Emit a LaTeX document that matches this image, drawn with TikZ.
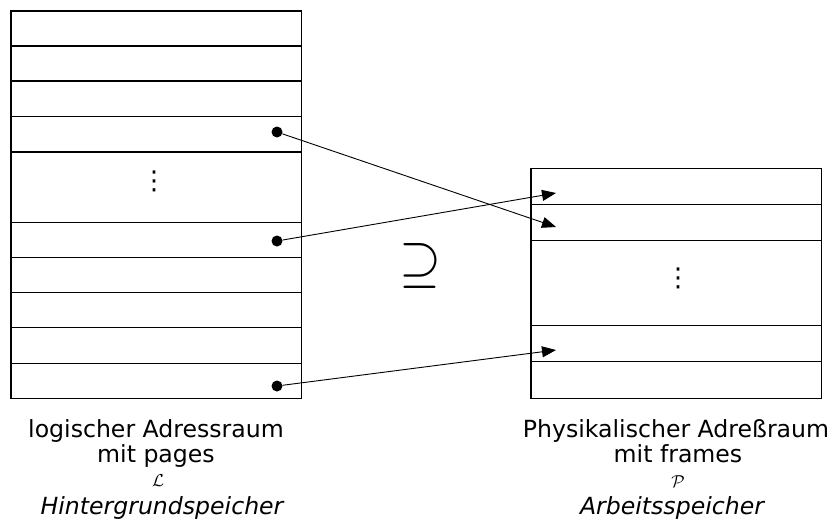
\documentclass[tikz,border=0pt]{standalone}
\usepackage{fontspec}
\setmainfont{DejaVu Sans}
\usetikzlibrary{arrows.meta}
\begin{document}
\begin{tikzpicture}[x=1pt,y=-1pt,
  row/.style={draw,line width=1.2pt,minimum width=290.5pt,inner sep=0pt,outer sep=0pt,anchor=north west},
  bullet/.style={circle,fill,inner sep=0pt,minimum size=11pt},
  link/.style={line width=0.9pt,-{Triangle[length=14pt,width=11pt]}},
  lbl/.style={font=\fontsize{23.6}{28}\selectfont,inner sep=0pt,anchor=base},
  ilbl/.style={lbl,font=\fontsize{23.6}{28}\selectfont\itshape},
  sym/.style={inner sep=0pt,anchor=base,font=\fontsize{19}{22}\selectfont},
  vdts/.style={inner sep=0pt,font=\fontsize{26}{30}\selectfont}]
\useasboundingbox (0,0) rectangle (834,527);
% left box rows
\foreach \a/\b [count=\i] in {11/46,46/81,81/116.5,116.5/152,152/222.3,222.3/257.3,257.3/292.5,292.5/327.7,327.7/363.3,363.3/398.3}
  \node[row,minimum height={(\b-\a)*1pt}] (L\i) at (11,\a) {};
% right box rows
\foreach \a/\b [count=\i] in {168.3/204.3,204.3/240.7,240.7/325.7,325.7/361.7,361.7/398.3}
  \node[row,minimum height={(\b-\a)*1pt}] (R\i) at (531,\a) {};
% dots
\node[vdts] (ldots) at (154,181) {⋮};
\node[vdts] (rdots) at (678,278) {⋮};
% superset symbol
\node[inner sep=0pt] (sup) at (420,266) {\resizebox{42pt}{37pt}{$\supseteq$}};
% bullets and targets
\node[bullet] (b1) at (277,132) {};
\node[bullet] (b2) at (277,241) {};
\node[bullet] (b3) at (277,386) {};
\coordinate (t1) at (556,227);
\coordinate (t2) at (556,193);
\coordinate (t3) at (556,350);
\draw[link] (b1) -- (t1);
\draw[link] (b2) -- (t2);
\draw[link] (b3) -- (t3);
% labels
\node[lbl] (l1) at (156,437) {logischer Adressraum};
\node[lbl] (l2) at (156,462) {mit pages};
\node[sym] (l3) at (158,486) {$\mathcal{L}$};
\node[ilbl] (l4) at (162,514) {Hintergrundspeicher};
\node[lbl] (r1) at (676,437) {Physikalischer Adreßraum};
\node[lbl] (r2) at (678,462) {mit frames};
\node[sym] (r3) at (678,487) {$\mathcal{P}$};
\node[ilbl] (r4) at (672,514) {Arbeitsspeicher};
\end{tikzpicture}
\end{document}
